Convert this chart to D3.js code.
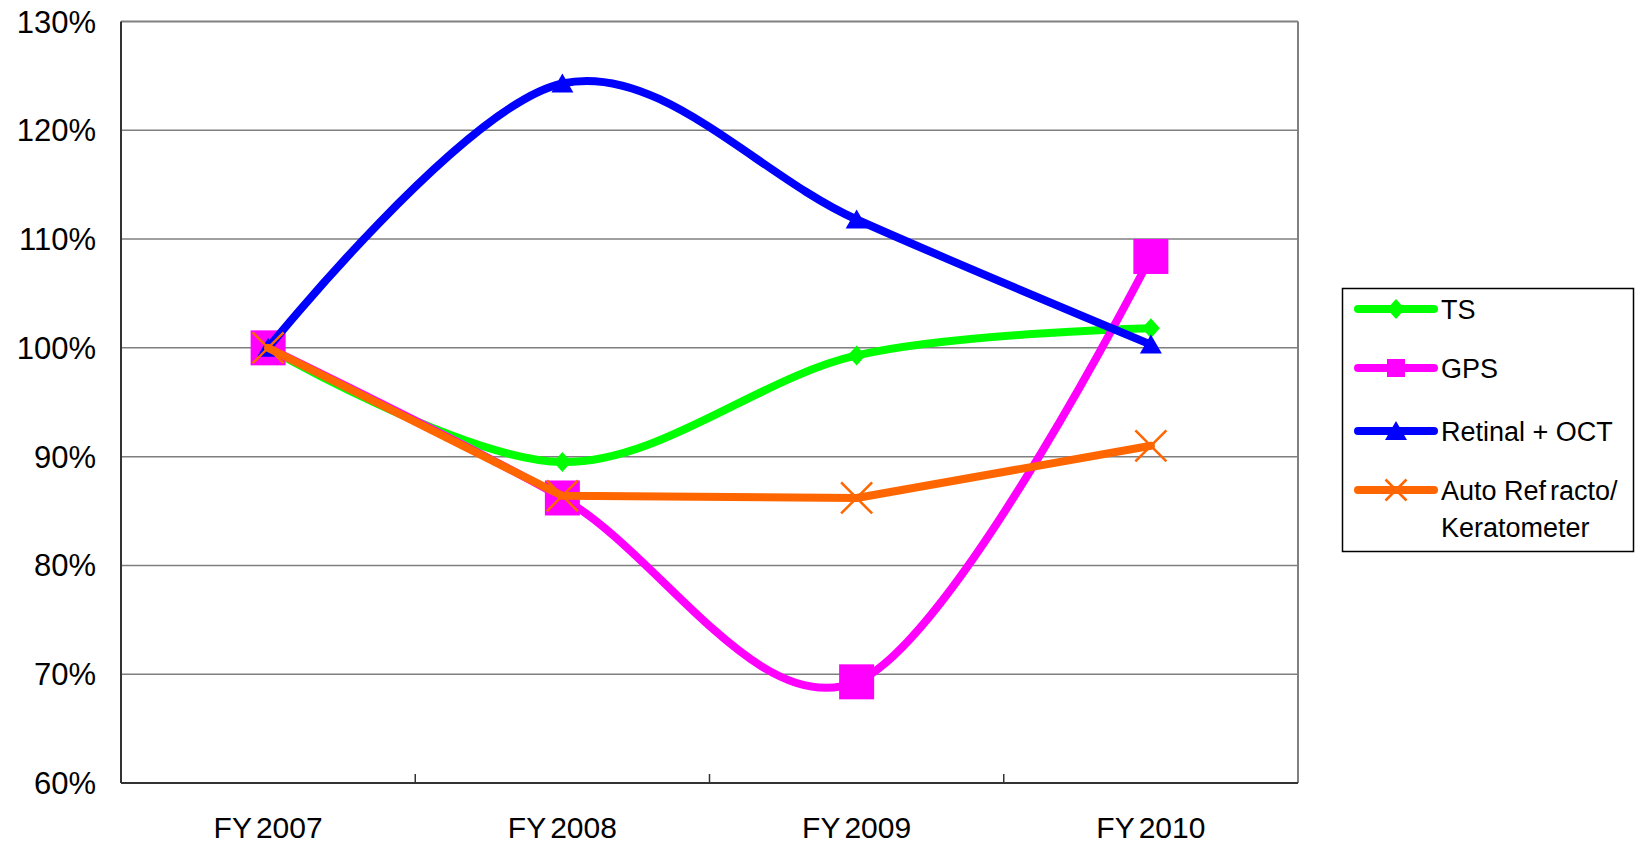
<!DOCTYPE html>
<html>
<head>
<meta charset="utf-8">
<script src="https://cdn.jsdelivr.net/npm/d3@7/dist/d3.min.js"></script>
<style>
  html, body { margin: 0; padding: 0; background: #fff; }
  svg { display: block; font-family: "Liberation Sans", Arial, sans-serif; }
</style>
</head>
<body>
<svg id="chart" width="1635" height="844"></svg>
<script>
// Fiscal years on the category axis
const categories = ["FY2007", "FY2008", "FY2009", "FY2010"];

// Index values (FY2007 = 100%)
const tsValues      = [100, 89.5, 99.3, 101.8];
const gpsValues     = [100, 86.2, 69.3, 108.4];
const retinalValues = [100, 124.3, 111.8, 100.3];
const autoValues    = [100, 86.4, 86.2, 91.0];

// Y-axis ticks
const yTicks = [60, 70, 80, 90, 100, 110, 120, 130];

const seriesNames  = ["TS", "GPS", "Retinal + OCT", "Auto Refracto/ Keratometer"];
const seriesColors = ["#00FF00", "#FF00FF", "#0000FF", "#FF6600"];
const seriesMarks  = ["diamond", "square", "triangle", "cross"];
const seriesSmooth = [true, true, true, false];
const seriesValues = [tsValues, gpsValues, retinalValues, autoValues];

const svg = d3.select("#chart");

const plot = { left: 121, right: 1298, top: 21.5, bottom: 783 };

const x = d3.scaleBand().domain(categories).range([plot.left, plot.right]).padding(0);
const y = d3.scaleLinear().domain([60, 130]).range([plot.bottom, plot.top]);
const cx = d => x(d) + x.bandwidth() / 2;

// Horizontal gridlines
svg.append("g").selectAll("line")
  .data(yTicks.filter(t => t > 60 && t < 130))
  .join("line")
  .attr("x1", plot.left).attr("x2", plot.right)
  .attr("y1", d => y(d)).attr("y2", d => y(d))
  .attr("stroke", "#7f7f7f").attr("stroke-width", 1.5);

// Plot-area frame: grey top/right, dark axis lines left/bottom
svg.append("line").attr("x1", plot.left).attr("x2", plot.right)
  .attr("y1", plot.top).attr("y2", plot.top)
  .attr("stroke", "#808080").attr("stroke-width", 2);
svg.append("line").attr("x1", plot.right).attr("x2", plot.right)
  .attr("y1", plot.top).attr("y2", plot.bottom)
  .attr("stroke", "#808080").attr("stroke-width", 2);
svg.append("line").attr("x1", plot.left).attr("x2", plot.left)
  .attr("y1", plot.top).attr("y2", plot.bottom)
  .attr("stroke", "#333").attr("stroke-width", 2);
svg.append("line").attr("x1", plot.left).attr("x2", plot.right)
  .attr("y1", plot.bottom).attr("y2", plot.bottom)
  .attr("stroke", "#333").attr("stroke-width", 2);

// Category divider ticks on the x axis
svg.append("g").selectAll("line")
  .data(categories.slice(1))
  .join("line")
  .attr("x1", d => x(d)).attr("x2", d => x(d))
  .attr("y1", plot.bottom).attr("y2", plot.bottom - 9)
  .attr("stroke", "#333").attr("stroke-width", 1.5);

// Y-axis labels
svg.append("g").selectAll("text")
  .data(yTicks)
  .join("text")
  .attr("x", 96).attr("y", d => y(d) + 11)
  .attr("text-anchor", "end")
  .attr("font-size", 31)
  .attr("fill", "#000")
  .text(d => d + "%");

// X-axis labels ("FY" and the year set slightly apart)
const xl = svg.append("g").selectAll("text")
  .data(categories)
  .join("text")
  .attr("x", d => cx(d)).attr("y", 838)
  .attr("text-anchor", "middle")
  .attr("font-size", 30)
  .attr("fill", "#000");
xl.append("tspan").text(d => d.slice(0, 2));
xl.append("tspan").attr("dx", 4).text(d => d.slice(2));

// Markers
function drawMarker(g, type, color, px, py, big) {
  if (type === "diamond") {
    const w = 9, h = 10;
    g.append("path")
      .attr("d", `M${px},${py - h}L${px + w},${py}L${px},${py + h}L${px - w},${py}Z`)
      .attr("fill", color);
  } else if (type === "square") {
    const s = big ? 35 : 18;
    g.append("rect")
      .attr("x", px - s / 2).attr("y", py - s / 2)
      .attr("width", s).attr("height", s)
      .attr("fill", color);
  } else if (type === "triangle") {
    const w = 11, h = 10;
    g.append("path")
      .attr("d", `M${px},${py - h}L${px + w},${py + h - 1}L${px - w},${py + h - 1}Z`)
      .attr("fill", color);
  } else if (type === "cross") {
    const s = big ? 15.5 : 10.5;
    g.append("path")
      .attr("d", `M${px - s},${py - s}L${px + s},${py + s}M${px - s},${py + s}L${px + s},${py - s}`)
      .attr("stroke", color).attr("stroke-width", 2.5).attr("fill", "none");
  }
}

const lineGen = smooth => d3.line()
  .x((d, i) => cx(categories[i]))
  .y(d => y(d))
  .curve(smooth ? d3.curveCatmullRom.alpha(0) : d3.curveLinear);

const seriesG = svg.append("g");
seriesValues.forEach((vals, si) => {
  const g = seriesG.append("g");
  g.append("path")
    .attr("d", lineGen(seriesSmooth[si])(vals))
    .attr("fill", "none")
    .attr("stroke", seriesColors[si])
    .attr("stroke-width", 8)
    .attr("stroke-linejoin", "round")
    .attr("stroke-linecap", "round");
  vals.forEach((v, i) => drawMarker(g, seriesMarks[si], seriesColors[si], cx(categories[i]), y(v), true));
});

// Legend
const legend = svg.append("g");
legend.append("rect")
  .attr("x", 1342.5).attr("y", 288.5)
  .attr("width", 291).attr("height", 263)
  .attr("fill", "#fff").attr("stroke", "#000").attr("stroke-width", 1.5);

const legendRows = [309, 368, 431, 490];
seriesNames.forEach((name, i) => {
  const ly = legendRows[i];
  legend.append("line")
    .attr("x1", 1358).attr("x2", 1434)
    .attr("y1", ly).attr("y2", ly)
    .attr("stroke", seriesColors[i]).attr("stroke-width", 8)
    .attr("stroke-linecap", "round");
  drawMarker(legend, seriesMarks[i], seriesColors[i], 1396, ly, false);
  const t = legend.append("text")
    .attr("x", 1441).attr("y", ly + 10)
    .attr("font-size", 27).attr("fill", "#000");
  if (i === 3) {
    t.append("tspan").text("Auto Ref");
    t.append("tspan").attr("dx", 4).text("racto/");
    t.append("tspan").attr("x", 1441).attr("dy", 37).text("Keratometer");
  } else {
    t.text(name);
  }
});
</script>
</body>
</html>
